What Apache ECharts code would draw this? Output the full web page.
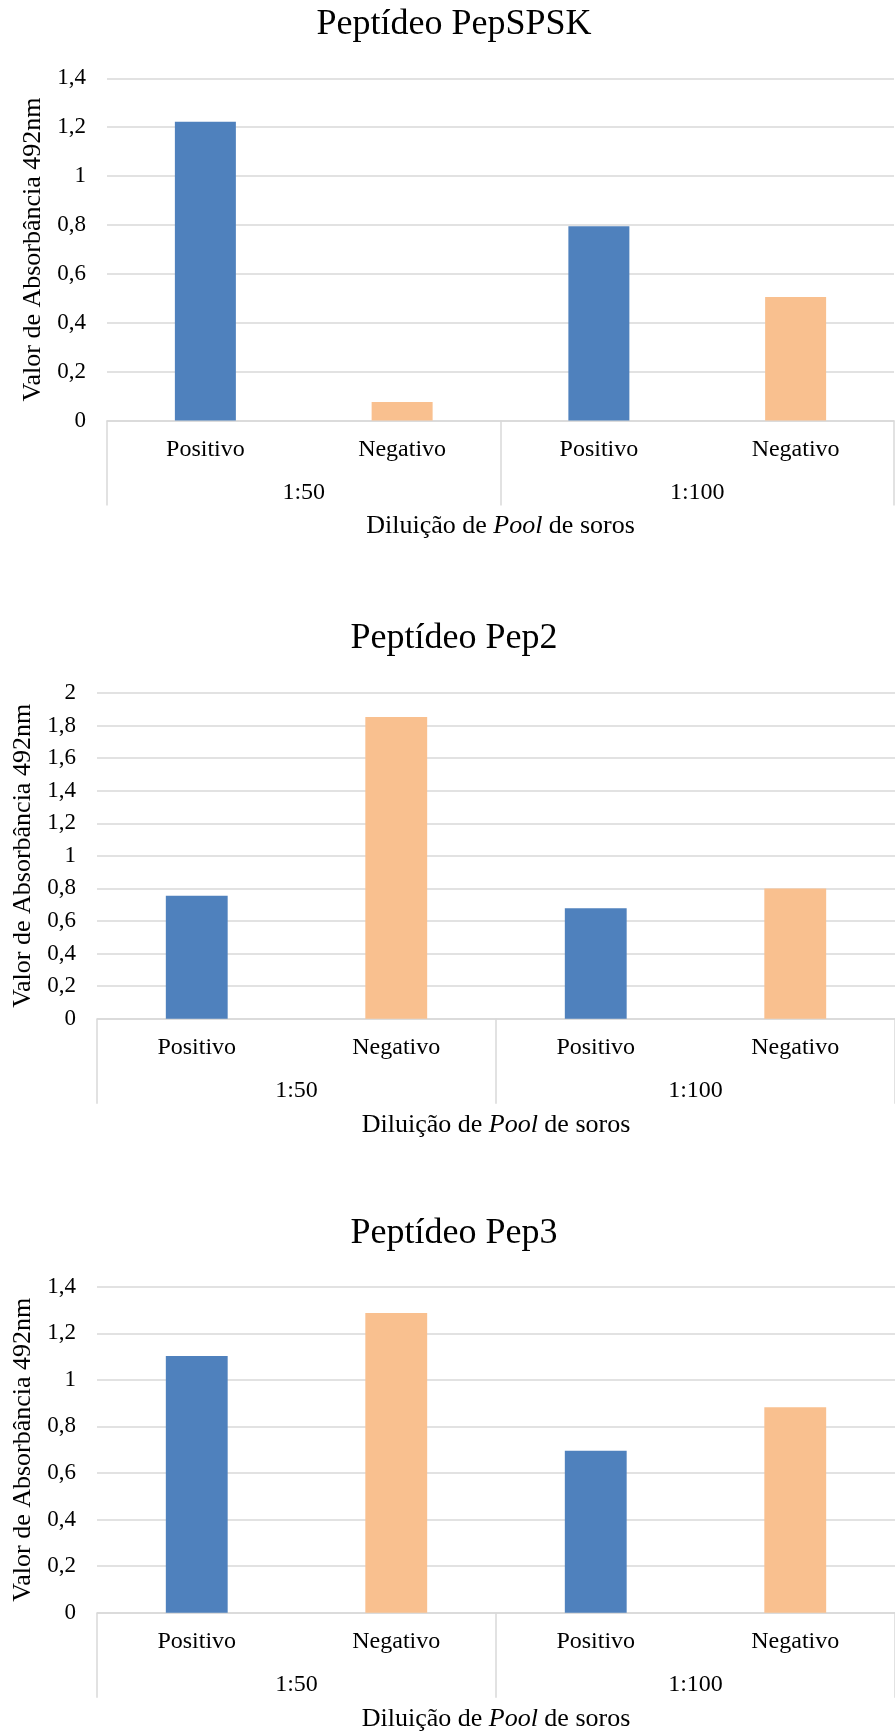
<!DOCTYPE html>
<html>
<head>
<meta charset="utf-8">
<script src="https://cdn.jsdelivr.net/npm/echarts@6/dist/echarts.min.js"></script>
<style>
  html, body { margin: 0; padding: 0; background: #ffffff; }
  #chart { width: 895px; height: 1735px; }
</style>
</head>
<body>
<div id="chart"></div>
<script>
// ---- data ----
const categories = ['Positivo', 'Negativo', 'Positivo', 'Negativo'];
const dilutions = ['1:50', '1:100'];
const chartTitles = ['Peptídeo PepSPSK', 'Peptídeo Pep2', 'Peptídeo Pep3'];
const pepSPSKValues = [1.222, 0.076, 0.795, 0.506];
const pep2Values = [0.755, 1.853, 0.678, 0.80];
const pep3Values = [1.102, 1.287, 0.696, 0.882];
const yAxisMax = [1.4, 2, 1.4];
const yAxisInterval = 0.2;
const yAxisTitle = 'Valor de Absorbância 492nm';
const xAxisTitle = 'Diluição de {i|Pool} de soros';

// ---- layout / style ----
const allValues = [pepSPSKValues, pep2Values, pep3Values];
const categoryColors = { 'Positivo': '#4f81bd', 'Negativo': '#f9c08f' };
const grids = [
  { left: 107, top: 78.3, width: 787, height: 342.3 },
  { left: 97, top: 693, width: 809, height: 325.7 },
  { left: 97, top: 1286.7, width: 809, height: 326 }
];
const titleTops = [7, 621, 1216];
const FONT = '"Liberation Serif", "Times New Roman", serif';
const GRID_COLOR = '#d9d9d9';

const option = {
  backgroundColor: '#ffffff',
  animation: false,
  textStyle: { fontFamily: FONT, color: '#000' },
  title: chartTitles.map((t, i) => ({
    text: t,
    left: 454,
    top: titleTops[i],
    textAlign: 'center',
    padding: 0,
    textStyle: { fontFamily: FONT, fontSize: 36, fontWeight: 'normal', color: '#000' }
  })),
  grid: grids.map(g => Object.assign({ containLabel: false }, g)),
  xAxis: [],
  yAxis: [],
  series: []
};

grids.forEach((g, i) => {
  // primary category axis (Positivo / Negativo)
  option.xAxis.push({
    type: 'category',
    gridIndex: i,
    position: 'bottom',
    data: categories,
    axisLine: { show: true, lineStyle: { color: GRID_COLOR, width: 1.5 } },
    axisTick: { show: false },
    axisLabel: { fontFamily: FONT, fontSize: 24, color: '#000', margin: 17 },
    splitLine: { show: false }
  });
  // group axis (1:50 / 1:100) with long divider ticks
  option.xAxis.push({
    type: 'category',
    gridIndex: i,
    position: 'bottom',
    data: dilutions,
    axisLine: { show: false },
    axisTick: { show: true, length: 85, lineStyle: { color: GRID_COLOR, width: 1.5 } },
    axisLabel: { fontFamily: FONT, fontSize: 24, color: '#000', margin: 60 },
    splitLine: { show: false },
    name: xAxisTitle,
    nameLocation: 'middle',
    nameGap: 93,
    nameTextStyle: {
      fontFamily: FONT, fontSize: 26, color: '#000',
      rich: { i: { fontFamily: FONT, fontSize: 26, color: '#000', fontStyle: 'italic' } }
    }
  });
  option.yAxis.push({
    type: 'value',
    gridIndex: i,
    min: 0,
    max: yAxisMax[i],
    interval: yAxisInterval,
    axisLine: { show: false },
    axisTick: { show: false },
    axisLabel: {
      fontFamily: FONT, fontSize: 23, color: '#000', margin: 21,
      formatter: v => String(Number(v.toFixed(1))).replace('.', ',')
    },
    splitLine: { show: true, lineStyle: { color: GRID_COLOR, width: 1.5 } },
    name: yAxisTitle,
    nameLocation: 'middle',
    nameRotate: 90,
    nameGap: 60,
    nameTextStyle: { fontFamily: FONT, fontSize: 26, color: '#000' }
  });
  option.series.push({
    type: 'bar',
    xAxisIndex: i * 2,
    yAxisIndex: i,
    barWidth: '31%',
    data: allValues[i].map((v, k) => ({
      value: v,
      itemStyle: { color: categoryColors[categories[k]] }
    }))
  });
});

const chart = echarts.init(document.getElementById('chart'), null, { renderer: 'canvas' });
chart.setOption(option);
</script>
</body>
</html>
